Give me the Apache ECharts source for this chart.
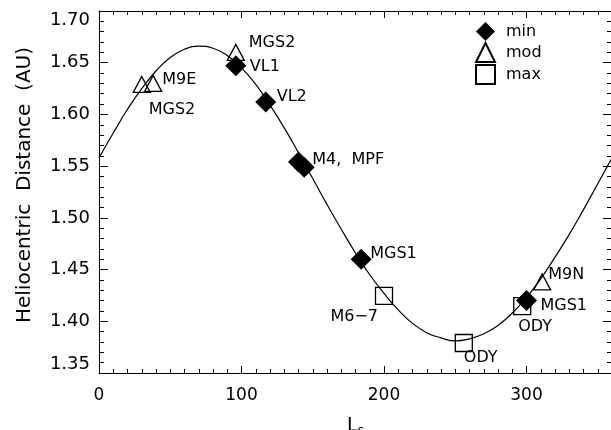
<!DOCTYPE html>
<html>
<head>
<meta charset="utf-8">
<script src="https://cdn.jsdelivr.net/npm/echarts@6/dist/echarts.min.js"></script>
<style>
html,body{margin:0;padding:0;background:#fff;}
#chart{width:611px;height:430px;}
</style>
</head>
<body>
<div id="chart"></div>
<script>
// ---- data ----
const curveLs = [0,10,20,30,40,50,60,70,80,90,100,110,120,130,140,150,160,170,180,190,200,210,220,230,240,250,260,270,280,290,300,310,320,330,340,350,360];
const curveR  = [1.558,1.582,1.605,1.625,1.642,1.655,1.663,1.666,1.664,1.657,1.645,1.629,1.609,1.587,1.563,1.538,1.513,1.489,1.466,1.445,1.427,1.411,1.398,1.389,1.384,1.381,1.383,1.388,1.396,1.408,1.423,1.441,1.462,1.484,1.508,1.533,1.558];

const minLs = [96, 117, 140, 144, 184, 300];
const minR  = [1.647, 1.612, 1.554, 1.549, 1.460, 1.420];
const minNames = ['VL1', 'VL2', '', 'M4,  MPF', 'MGS1', 'MGS1'];

const modLs = [30, 38, 96, 311];
const modR  = [1.629, 1.630, 1.660, 1.438];
const modNames = ['MGS2', 'M9E', 'MGS2', 'M9N'];

const maxLs = [200, 256, 297];
const maxR  = [1.4246, 1.379, 1.4147];
const maxNames = ['M6\u22127', 'ODY', 'ODY'];

const legendNames = ['min', 'mod', 'max'];
const xTicks = [0, 100, 200, 300];
const yTickLabels = ['1.35','1.40','1.45','1.50','1.55','1.60','1.65','1.70'];

// ---- label layout (style only) ----
const minLabelLayout = [
  {dx: 14, dy: 1, align: 'left'},
  {dx: 11, dy: -5, align: 'left'},
  null,
  {dx: 8, dy: -7, align: 'left'},
  {dx: 9, dy: -5, align: 'left'},
  {dx: 14, dy: 5, align: 'left'}
];
const modLabelLayout = [
  {dx: 7, dy: 25, align: 'left'},
  {dx: 9, dy: -4, align: 'left'},
  {dx: 13, dy: -10, align: 'left'},
  {dx: 6, dy: -7, align: 'left'}
];
const maxLabelLayout = [
  {dx: -6, dy: 21, align: 'right'},
  {dx: 0, dy: 15, align: 'left'},
  {dx: -4, dy: 21, align: 'left'}
];

const FONT = 'DejaVu Sans';

function buildPoints(xs, ys, names, layout) {
  return xs.map((x, i) => {
    const l = layout[i];
    const item = { value: [x, ys[i]], name: names[i] };
    if (l && names[i]) {
      item.label = {
        show: true,
        position: 'inside',
        align: l.align,
        verticalAlign: 'middle',
        offset: [l.dx, l.dy],
        formatter: names[i],
        color: '#000',
        fontFamily: FONT,
        fontSize: 16
      };
    } else {
      item.label = { show: false };
    }
    return item;
  });
}

const chart = echarts.init(document.getElementById('chart'), null, {renderer: 'canvas'});

const baseX = {
  type: 'value', min: 0, max: 360,
  splitLine: {show: false},
  axisLine: {show: true, onZero: false, lineStyle: {color: '#000', width: 1}}
};
const baseY = {
  type: 'value', min: 1.35, max: 1.70, interval: 0.05,
  splitLine: {show: false},
  axisLine: {show: true, onZero: false, lineStyle: {color: '#000', width: 1}}
};

const option = {
  backgroundColor: '#fff',
  animation: false,
  grid: {left: 99, right: -1, top: 11, bottom: 57, containLabel: false, outerBoundsMode: 'none'},
  legend: {
    data: legendNames,
    orient: 'vertical',
    left: 475, top: 22,
    padding: 0,
    itemWidth: 19, itemHeight: 19, itemGap: 1,
    textStyle: {fontFamily: FONT, fontSize: 16, color: '#000', padding: [0,0,0,6]}
  },
  xAxis: [
    Object.assign({}, baseX, {
      position: 'bottom', interval: 100,
      axisTick: {show: true, inside: true, length: 7, lineStyle: {color: '#000', width: 1}},
      axisLabel: {
        show: true, color: '#000', fontFamily: FONT, fontSize: 17, margin: 14,
        showMaxLabel: false,
        formatter: v => (xTicks.indexOf(v) >= 0 ? String(v) : '')
      },
      name: '{L|L}{s|s}',
      nameLocation: 'middle',
      nameGap: 42,
      nameTextStyle: {
        rich: {
          L: {fontFamily: FONT, fontSize: 19, color: '#000'},
          s: {fontFamily: FONT, fontSize: 12, color: '#000', padding: [10,0,0,0]}
        }
      }
    }),
    Object.assign({}, baseX, {
      position: 'bottom', interval: 10,
      axisLine: {show: false},
      axisTick: {show: true, inside: true, length: 4, lineStyle: {color: '#000', width: 1}},
      axisLabel: {show: false}
    }),
    Object.assign({}, baseX, {
      position: 'top', interval: 100,
      axisTick: {show: true, inside: true, length: 7, lineStyle: {color: '#000', width: 1}},
      axisLabel: {show: false}
    }),
    Object.assign({}, baseX, {
      position: 'top', interval: 10,
      axisLine: {show: false},
      axisTick: {show: true, inside: true, length: 4, lineStyle: {color: '#000', width: 1}},
      axisLabel: {show: false}
    })
  ],
  yAxis: [
    Object.assign({}, baseY, {
      position: 'left',
      axisTick: {show: true, inside: true, length: 9, lineStyle: {color: '#000', width: 1}},
      minorTick: {show: true, splitNumber: 5, length: 5, lineStyle: {color: '#000', width: 1}},
      axisLabel: {
        show: true, color: '#000', fontFamily: FONT, fontSize: 18, margin: 9,
        verticalAlignMinLabel: 'bottom',
        verticalAlignMaxLabel: 'top',
        formatter: v => {
          const s = v.toFixed(2);
          return yTickLabels.indexOf(s) >= 0 ? s : '';
        }
      },
      name: 'Heliocentric  Distance  (AU)',
      nameLocation: 'middle',
      nameGap: 64,
      nameTextStyle: {fontFamily: FONT, fontSize: 20, color: '#000', padding: [0,0,0,14]}
    }),
    Object.assign({}, baseY, {
      position: 'right',
      axisTick: {show: true, inside: true, length: 9, lineStyle: {color: '#000', width: 1}},
      minorTick: {show: true, splitNumber: 5, length: 5, lineStyle: {color: '#000', width: 1}},
      axisLabel: {show: false}
    })
  ],
  series: [
    {
      type: 'line', name: 'curve',
      xAxisIndex: 0, yAxisIndex: 0,
      data: curveLs.map((x, i) => [x, curveR[i]]),
      smooth: true, symbol: 'none',
      lineStyle: {color: '#000', width: 1.2},
      z: 2, silent: true
    },
    {
      type: 'scatter', name: 'min',
      xAxisIndex: 0, yAxisIndex: 0,
      symbol: 'diamond', symbolSize: 21,
      itemStyle: {color: '#000', borderColor: '#000', borderWidth: 0, opacity: 1},
      data: buildPoints(minLs, minR, minNames, minLabelLayout),
      z: 4
    },
    {
      type: 'scatter', name: 'mod',
      xAxisIndex: 0, yAxisIndex: 0,
      symbol: 'triangle', symbolSize: [17, 16],
      itemStyle: {color: 'rgba(255,255,255,0)', borderColor: '#000', borderWidth: 1.3, opacity: 1},
      data: buildPoints(modLs, modR, modNames, modLabelLayout),
      z: 3
    },
    {
      type: 'scatter', name: 'max',
      xAxisIndex: 0, yAxisIndex: 0,
      symbol: 'rect', symbolSize: 17,
      itemStyle: {color: 'rgba(255,255,255,0)', borderColor: '#000', borderWidth: 1.3, opacity: 1},
      data: buildPoints(maxLs, maxR, maxNames, maxLabelLayout),
      z: 3
    }
  ]
};

chart.setOption(option);
</script>
</body>
</html>
